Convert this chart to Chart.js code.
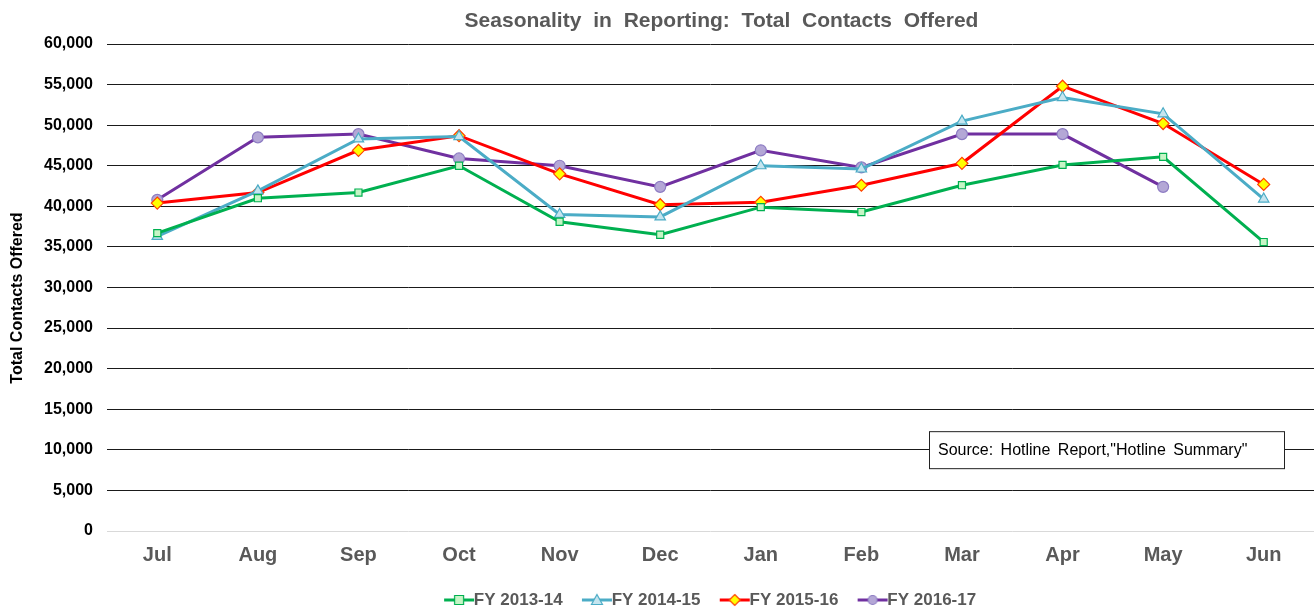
<!DOCTYPE html>
<html>
<head>
<meta charset="utf-8">
<script src="https://cdn.jsdelivr.net/npm/chart.js@4/dist/chart.umd.min.js"></script>
<style>
html,body{margin:0;padding:0;background:#fff;overflow:hidden;}
canvas{display:block;}
</style>
</head>
<body>
<canvas id="c" width="1314" height="607"></canvas>
<script>
const months = ["Jul","Aug","Sep","Oct","Nov","Dec","Jan","Feb","Mar","Apr","May","Jun"];
const fy1314 = [36700,41000,41700,45000,38100,36500,39900,39300,42600,45100,46100,35600];
const fy1415 = [36300,41900,48300,48600,39000,38700,45000,44600,50500,53400,51400,40900];
const fy1516 = [40400,41700,46900,48700,44000,40200,40500,42600,45300,54800,50200,42700];
const fy1617 = [40800,48500,48900,45900,45000,42400,46900,44800,48900,48900,42400,null];
const seriesNames = ["FY 2013-14","FY 2014-15","FY 2015-16","FY 2016-17"];
const yTicks = {min:0, max:60000, step:5000};
const titleText = "Seasonality in Reporting: Total Contacts Offered";
const yTitle = "Total Contacts Offered";
const sourceText = "Source: Hotline Report,\"Hotline Summary\"";

const FONT = "'Liberation Sans', Arial, sans-serif";

function mkDs(label, data, line, fill, border, style, r){
  return {label, data, borderColor:line, backgroundColor:fill, pointBackgroundColor:fill,
    pointBorderColor:border, pointStyle:style, pointRadius:r, pointHoverRadius:r,
    pointBorderWidth:1.2, borderWidth:3, tension:0, spanGaps:false};
}
const datasets = [
  mkDs(seriesNames[0], fy1314, "#00b050", "#c6f5c6", "#00b050", "rect", 5),
  mkDs(seriesNames[1], fy1415, "#4bacc6", "#c5e5ef", "#4bacc6", "triangle", 6),
  mkDs(seriesNames[2], fy1516, "#ff0000", "#ffff00", "#ff4000", "rectRot", 6),
  mkDs(seriesNames[3], fy1617, "#7030a0", "#b4a7d6", "#8d7cc3", "circle", 5.5)
];

// legend icon: 40px wide image, visible line+marker at x 9..39
function legendIcon(ds){
  const cv = document.createElement('canvas');
  cv.width = 40; cv.height = 16;
  const g = cv.getContext('2d');
  const x0 = 9, x1 = 39, cx = 24, cy = 8;
  g.strokeStyle = ds.borderColor; g.lineWidth = 3;
  g.beginPath(); g.moveTo(x0,cy); g.lineTo(x1,cy); g.stroke();
  g.fillStyle = ds.pointBackgroundColor; g.strokeStyle = ds.pointBorderColor; g.lineWidth = 1.2;
  const r = 4.5;
  g.beginPath();
  if (ds.pointStyle === 'rect') { g.rect(cx-r,cy-r,2*r,2*r); }
  else if (ds.pointStyle === 'triangle') { g.moveTo(cx,cy-r-1); g.lineTo(cx+r+1,cy+r); g.lineTo(cx-r-1,cy+r); g.closePath(); }
  else if (ds.pointStyle === 'rectRot') { g.moveTo(cx,cy-r-1); g.lineTo(cx+r+1,cy); g.lineTo(cx,cy+r+1); g.lineTo(cx-r-1,cy); g.closePath(); }
  else { g.arc(cx,cy,r,0,Math.PI*2); }
  g.fill(); g.stroke();
  return cv;
}

const extras = {
  id:'extras',
  afterDraw(chart){
    const ctx = chart.ctx, a = chart.chartArea;
    ctx.save();
    // title
    ctx.fillStyle = '#595959';
    ctx.font = "bold 21px " + FONT;
    ctx.textAlign = 'center'; ctx.textBaseline = 'middle';
    try { ctx.wordSpacing = '6px'; } catch(e) {}
    ctx.fillText(titleText, (a.left + a.right)/2 + 11, 21);
    try { ctx.wordSpacing = '0px'; } catch(e) {}
    // y axis title
    ctx.save();
    ctx.translate(18, 298);
    ctx.rotate(-Math.PI/2);
    ctx.fillStyle = '#000';
    ctx.font = "bold 16px " + FONT;
    ctx.fillText(yTitle, 0, 0);
    ctx.restore();
    // source box
    const x = a.right - 385, y = chart.scales.y.getPixelForValue(12300), w = 355, h = 37;
    ctx.fillStyle = '#fff'; ctx.fillRect(x, y, w, h);
    ctx.strokeStyle = '#222'; ctx.lineWidth = 1;
    ctx.strokeRect(x+0.5, y+0.5, w, h);
    ctx.fillStyle = '#000'; ctx.font = "16px " + FONT; ctx.textAlign = 'left';
    try { ctx.wordSpacing = '3px'; } catch(e) {}
    ctx.fillText(sourceText, x + 9, y + h/2 + 1);
    ctx.restore();
  }
};

new Chart(document.getElementById('c'), {
  type:'line',
  data:{labels:months, datasets},
  plugins:[extras],
  options:{
    responsive:false, animation:false,
    layout:{autoPadding:false, padding:{left:0,right:0,top:44,bottom:-11.5}},
    plugins:{
      title:{display:false},
      legend:{position:'bottom', fullSize:false,
        labels:{usePointStyle:true, pointStyleWidth:20.5, color:'#595959', font:{family:FONT, size:17, weight:'bold'},
          padding:20,
          generateLabels(chart){
            return chart.data.datasets.map((ds,i)=>({text:ds.label, pointStyle:legendIcon(ds),
              fillStyle:ds.borderColor, strokeStyle:ds.borderColor, lineWidth:0, hidden:false,
              datasetIndex:i, fontColor:'#595959'}));
          }}},
      tooltip:{enabled:false}
    },
    scales:{
      x:{offset:true, grid:{display:false}, border:{display:false},
        afterFit(s){ s.height = 40.5; },
        ticks:{color:'#595959', font:{family:FONT, size:20, weight:'bold'}, padding:4}},
      y:{min:yTicks.min, max:yTicks.max,
        afterFit(s){ s.width = 107; },
        border:{display:false},
        grid:{color:(c)=> c.tick && c.tick.value===0 ? '#d9d9d9' : '#1a1a1a', lineWidth:1, drawTicks:false},
        ticks:{stepSize:yTicks.step, color:'#000', padding:14,
          font:{family:FONT, size:16, weight:'bold'},
          callback:(v)=>v.toLocaleString('en-US')},
        title:{display:false}
      }
    }
  }
});
</script>
</body>
</html>
